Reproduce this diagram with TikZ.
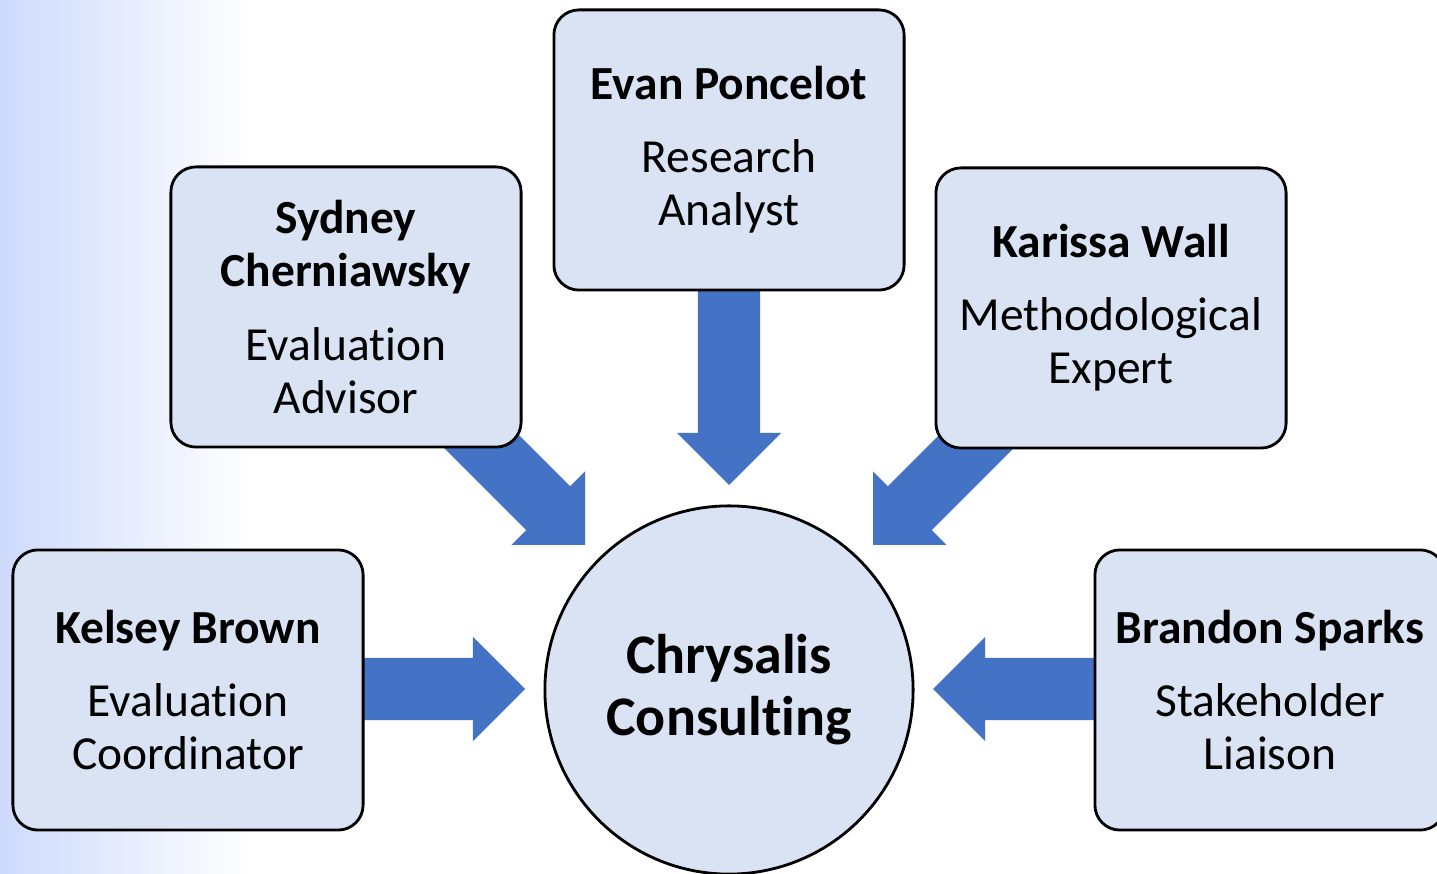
\documentclass[tikz,border=0pt]{standalone}
\usepackage{fontspec}
\setmainfont{Carlito}[RawFeature={-liga,-clig,-calt,-dlig}]
\usetikzlibrary{calc}
\definecolor{boxfill}{HTML}{DAE3F3}
\definecolor{arrowblue}{HTML}{4472C4}
\definecolor{bgblue}{HTML}{CDDAFC}
\newcommand\fatarrow[2]{%
  \coordinate (#1h) at ($(#2)!0.52cm!(#1)$);
  \fill[arrowblue] ($(#1)!0.31cm!90:(#2)$) -- ($(#1h)!0.31cm!90:(#2)$)
    -- ($(#1h)!0.52cm!90:(#2)$) -- (#2) -- ($(#1h)!0.52cm!-90:(#2)$)
    -- ($(#1h)!0.31cm!-90:(#2)$) -- ($(#1)!0.31cm!-90:(#2)$) -- cycle;}
\tikzset{
  member/.style={draw=black, line width=0.8pt, fill=boxfill, rounded corners=0.25cm,
    minimum width=3.5cm, minimum height=2.8cm, align=center, inner sep=0pt,
    font=\fontsize{13.5}{15.1}\selectfont},
  hub/.style={circle, draw=black, line width=0.8pt, fill=boxfill, minimum size=3.68cm,
    align=center, inner sep=0pt, font=\bfseries\fontsize{15.9}{17.6}\selectfont}
}
\begin{document}
\begin{tikzpicture}[x=0.01cm, y=-0.01cm]
\useasboundingbox (0,0) rectangle (1437,874);
\clip (0,0) rectangle (1437,874);
\shade[left color=bgblue, right color=white] (0,0) rectangle (250,874);
% arrow coordinates
\coordinate (sE) at (729,250);  \coordinate (tE) at (729,485);
\coordinate (sS) at (440,400);  \coordinate (tS) at (585,545);
\coordinate (sW) at (1018,400); \coordinate (tW) at (873,545);
\coordinate (sK) at (330,689);  \coordinate (tK) at (525,689);
\coordinate (sB) at (1130,689); \coordinate (tB) at (933,689);
\fatarrow{sE}{tE}
\fatarrow{sS}{tS}
\fatarrow{sW}{tW}
\fatarrow{sK}{tK}
\fatarrow{sB}{tB}
% boxes
\node[member] (evan) at (729,150) {\textbf{Evan Poncelot}\\[5.7pt] Research\\ Analyst};
\node[member] (sydney) at (346,307) {\textbf{Sydney}\\ \textbf{Cherniawsky}\\[5.7pt] Evaluat\kern0pt ion\\ Advisor};
\node[member] (karissa) at (1111,308) {\textbf{Karissa Wall}\\[5.7pt] Methodological\\ Expert};
\node[member] (kelsey) at (188,690) {\textbf{Kelsey Brown}\\[5.7pt] Evaluat\kern0pt ion\\ Coordinator};
\node[member] (brandon) at (1270,690) {\textbf{Brandon Sparks}\\[5.7pt] Stakeholder\\ Liaison};
\node[hub] (hub) at (729,690) {Chrysalis\\ Consult\kern0pt ing};
\end{tikzpicture}
\end{document}
